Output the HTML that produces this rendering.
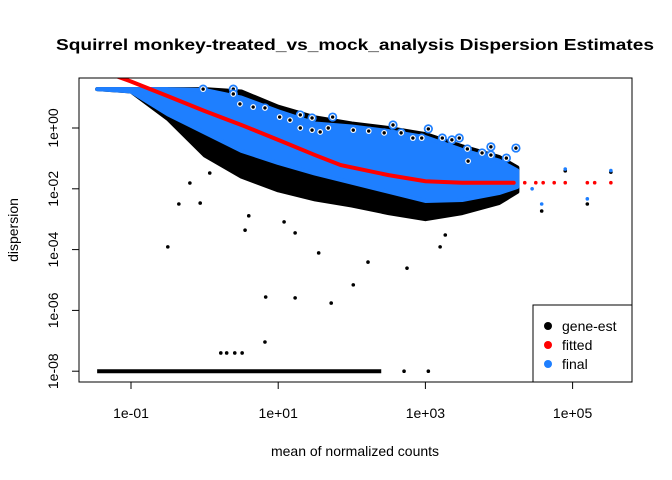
<!DOCTYPE html>
<html><head><meta charset="utf-8"><style>
body{margin:0;background:#fff;}
svg{display:block;font-family:"Liberation Sans",Arial,sans-serif;}
</style></head><body>
<svg id="chart" width="672" height="480" viewBox="0 0 672 480" xmlns="http://www.w3.org/2000/svg">
<text x="355" y="50" text-anchor="middle" font-size="16" font-weight="bold" textLength="598" lengthAdjust="spacingAndGlyphs">Squirrel monkey-treated_vs_mock_analysis Dispersion Estimates</text>
<text x="355" y="456" text-anchor="middle" font-size="14">mean of normalized counts</text>
<text transform="translate(18,230) rotate(-90)" text-anchor="middle" font-size="14">dispersion</text>
<g id="plot"></g>
<rect x="79" y="78" width="553" height="304" fill="none" stroke="#000" stroke-width="1"/>
<g id="axes"></g>
<g>
<rect x="533" y="305" width="99" height="77" fill="#fff" stroke="#000"/>
<circle cx="548" cy="326" r="4" fill="#000"/>
<text x="562" y="331" font-size="14">gene-est</text>
<circle cx="548" cy="345" r="4" fill="#ff0000"/>
<text x="562" y="350" font-size="14">fitted</text>
<circle cx="548" cy="364" r="4" fill="#1e7fff"/>
<text x="562" y="369" font-size="14">final</text>
</g>
</svg>
<script>
// data in log10 units
const xTicks = [-1, 1, 3, 5];
const xTickLabels = ["1e-01", "1e+01", "1e+03", "1e+05"];
const yTicks = [0, -2, -4, -6, -8];
const yTickLabels = ["1e+00", "1e-02", "1e-04", "1e-06", "1e-08"];
const bandX = [-1.46, -1, -0.5, 0, 0.5, 1, 1.5, 2, 2.5, 3, 3.5, 4, 4.25];
const blackHigh = [1.28, 1.28, 1.28, 1.28, 1.2, 0.7, 0.35, 0.15, 0, -0.2, -0.6, -0.95, -1.3];
const blackLow = [1.28, 1.2, 0.3, -0.9, -1.6, -2.05, -2.35, -2.55, -2.8, -3.0, -2.8, -2.47, -2.1];
const blueHigh = [1.28, 1.28, 1.28, 1.25, 1.0, 0.55, 0.15, 0.05, -0.1, -0.3, -0.72, -1.07, -1.4];
const blueLow = [1.28, 1.2, 0.45, -0.15, -0.75, -1.15, -1.5, -1.8, -2.1, -2.4, -2.37, -2.14, -1.94];
const fitX = [-1.25, -1, -0.5, 0, 0.5, 1, 1.5, 1.85, 2.5, 3, 3.5, 4, 4.2];
const fitY = [1.75, 1.53, 1.05, 0.56, 0.1, -0.39, -0.89, -1.22, -1.55, -1.75, -1.8, -1.8, -1.8];
const fitDotX = [4.35, 4.5, 4.6, 4.75, 4.9, 5.2, 5.3, 5.52];
const outX = [-0.05, 0.07, -0.2, -0.35, -0.06, -0.5, 0.55, 0.6, 1.23, 1.55, 0.83, 1.23, 1.72, 0.82, 0.22, 0.3, 0.41, 0.51, 1.08, 2.22, 2.75, 2.02, 3.2, 3.27, 2.71, 3.04, 4.58, 5.2, 4.9, 5.52];
const outY = [-0.72, -1.48, -1.81, -2.5, -2.47, -3.91, -3.36, -2.89, -3.45, -4.11, -5.56, -5.59, -5.76, -7.04, -7.4, -7.4, -7.4, -7.4, -3.09, -4.41, -4.61, -5.16, -3.91, -3.52, -8, -8, -2.73, -2.5, -1.41, -1.45];
const finalOutX = [4.58, 4.9, 5.2, 5.52, 4.2, 4.45];
const finalOutY = [-2.5, -1.35, -2.33, -1.4, -1.6, -2.0];
const circX = [-0.02, 0.39, 0.39, 0.48, 0.66, 0.82, 1.02, 1.16, 1.3, 1.46, 1.3, 1.46, 1.57, 1.74, 1.68, 2.02, 2.23, 2.44, 2.56, 2.67, 2.83, 2.95, 3.04, 3.23, 3.36, 3.46, 3.57, 3.77, 3.89, 3.89, 4.23, 4.1, 3.58];
const circY = [1.28, 1.28, 1.12, 0.79, 0.69, 0.66, 0.36, 0.26, 0.43, 0.33, 0, -0.07, -0.13, 0.36, 0, -0.07, -0.1, -0.16, 0.1, -0.16, -0.33, -0.33, -0.03, -0.33, -0.39, -0.33, -0.69, -0.82, -0.62, -0.89, -0.66, -0.99, -1.09];
const zeroRow = [-1.46, 2.4];
const capLevel = 1.28;
const floorLevel = -8;

const NS = "http://www.w3.org/2000/svg";
const sx = v => 131 + 73.6 * (v + 1);
const sy = v => 128 - 30.4 * v;
const plot = document.getElementById('plot');
const axes = document.getElementById('axes');
function mk(tag, attrs, parent) {
  const e = document.createElementNS(NS, tag);
  for (const k in attrs) e.setAttribute(k, attrs[k]);
  parent.appendChild(e);
  return e;
}
function band(high, low, fill, name) {
  let pts = bandX.map((x, i) => sx(x) + "," + sy(high[i]));
  for (let i = bandX.length - 1; i >= 0; i--) pts.push(sx(bandX[i]) + "," + sy(low[i]));
  const p = mk('polygon', {points: pts.join(' '), fill: fill, stroke: fill, 'stroke-width': 4, 'stroke-linejoin': 'round'}, plot);
  
  
}
const zr = mk('line', {x1: sx(zeroRow[0]), x2: sx(zeroRow[1]), y1: sy(floorLevel), y2: sy(floorLevel), stroke: '#000', 'stroke-width': 4}, plot);


band(blackHigh, blackLow, '#000', 'gene-est-cloud');
band(blueHigh, blueLow, '#1e7fff', 'final-cloud');
const cap = mk('line', {x1: sx(bandX[0]), x2: sx(-0.5), y1: sy(capLevel), y2: sy(capLevel), stroke: '#1e7fff', 'stroke-width': 4}, plot);


outX.forEach((x, i) => {
  const c = mk('circle', {cx: sx(x), cy: sy(outY[i]), r: 1.8, fill: '#000'}, plot);
  
  
});
finalOutX.forEach((x, i) => {
  const c = mk('circle', {cx: sx(x), cy: sy(finalOutY[i]), r: 1.8, fill: '#1e7fff'}, plot);
  
  
});
circX.forEach((x, i) => {
  const c = mk('circle', {cx: sx(x), cy: sy(circY[i]), r: 4.6, fill: '#1e7fff'}, plot);
  
  
  const w = mk('circle', {cx: sx(x), cy: sy(circY[i]), r: 2.9, fill: '#fff'}, plot);
  
  
  const d = mk('circle', {cx: sx(x), cy: sy(circY[i]), r: 1.7, fill: '#000'}, plot);
  
  
});
const fl = mk('polyline', {points: fitX.map((x, i) => sx(x) + "," + sy(fitY[i])).join(' '), fill: 'none', stroke: '#ff0000', 'stroke-width': 4, 'stroke-linecap': 'round'}, plot);


fitDotX.forEach(x => {
  const c = mk('circle', {cx: sx(x), cy: sy(-1.8), r: 1.8, fill: '#ff0000'}, plot);
  
  
});
const cp = mk('clipPath', {id: 'clipP'}, document.getElementById('chart'));
mk('rect', {x: 79, y: 78, width: 553, height: 304}, cp);
plot.setAttribute('clip-path', 'url(#clipP)');
mk('line', {x1: sx(xTicks[0]), x2: sx(xTicks[xTicks.length - 1]), y1: 382, y2: 382, stroke: '#000'}, axes);
xTicks.forEach((t, i) => {
  const l = mk('line', {x1: sx(t), x2: sx(t), y1: 382, y2: 389, stroke: '#000'}, axes);
  
  
  const tx = mk('text', {x: sx(t), y: 418, 'text-anchor': 'middle', 'font-size': 14}, axes);
  tx.textContent = xTickLabels[i];
  
  
});
yTicks.forEach((t, i) => {
  const l = mk('line', {x1: 72, x2: 79, y1: sy(t), y2: sy(t), stroke: '#000'}, axes);
  
  
  const tx = mk('text', {x: 0, y: 0, 'text-anchor': 'middle', 'font-size': 14, transform: 'translate(58,' + sy(t) + ') rotate(-90)'}, axes);
  tx.textContent = yTickLabels[i];
  
  
});
</script>
</body></html>
